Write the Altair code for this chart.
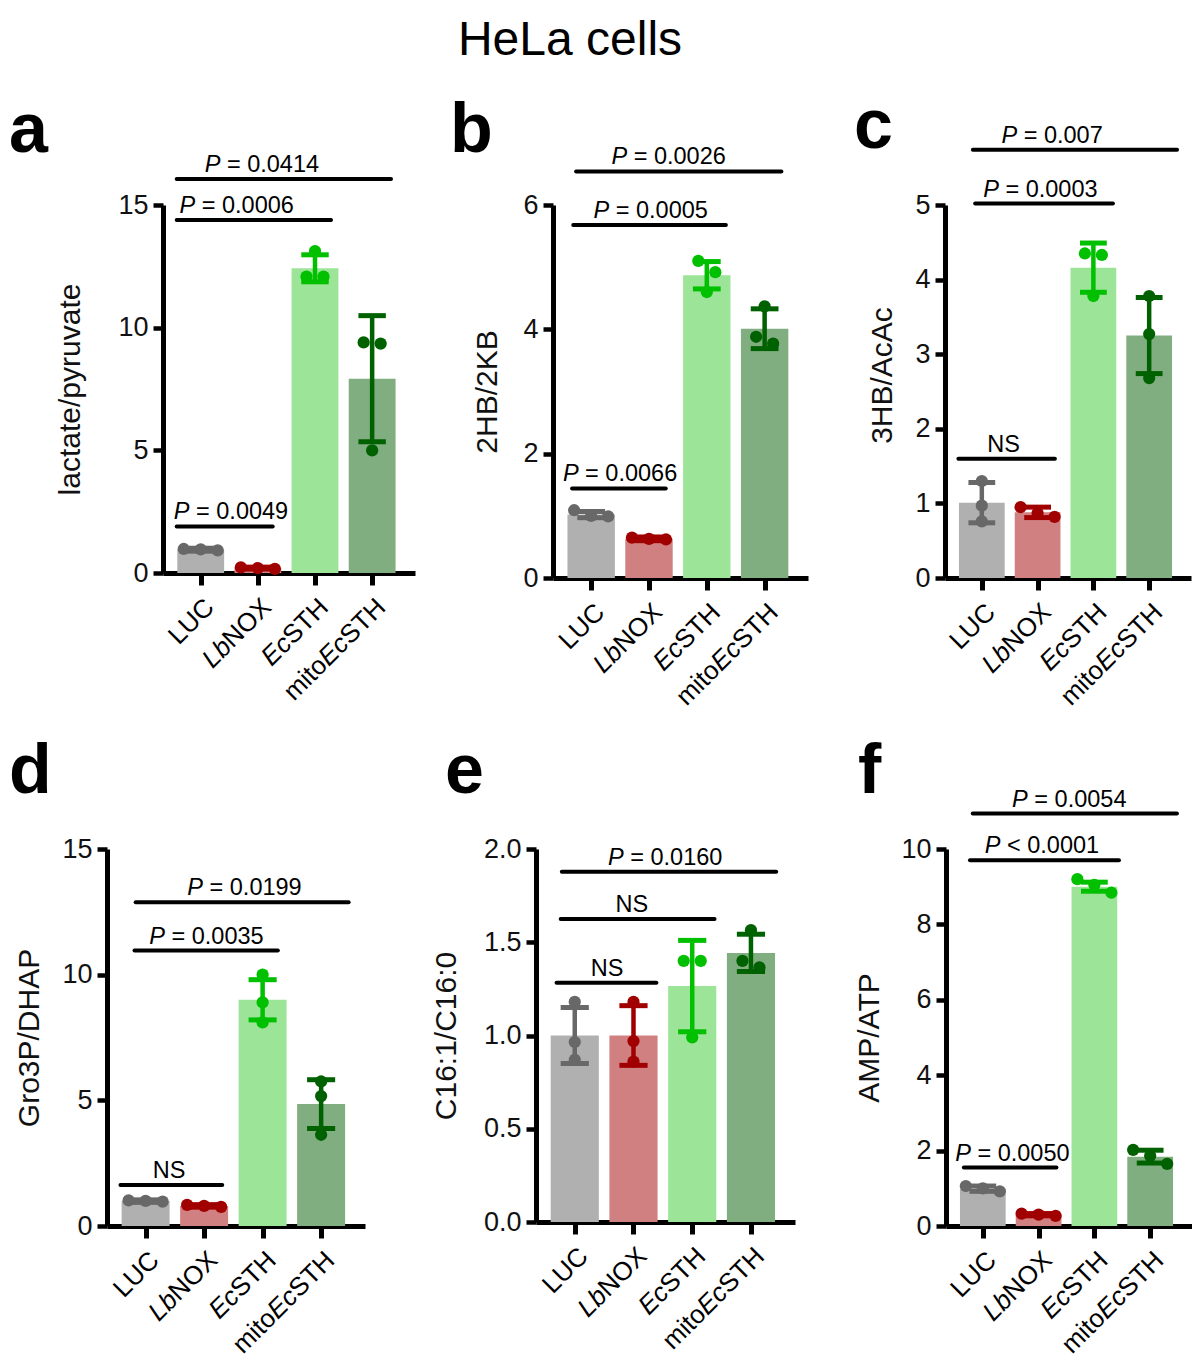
import altair as alt
import pandas as pd

FONT = "Liberation Sans"

# ---------------- data ----------------
figure_title = "HeLa cells"
groups = ["LUC", "LbNOX", "EcSTH", "mitoEcSTH"]
# tick-label pieces: (text, italic)
group_label_parts = [
    [("LUC", False)],
    [("Lb", True), ("NOX", False)],
    [("Ec", True), ("STH", False)],
    [("mito", False), ("Ec", True), ("STH", False)],
]
bar_colors = ["#b0b0b0", "#d08080", "#9ce598", "#80ae80"]
dot_colors = ["#686868", "#a10000", "#00c000", "#006100"]

panel_letters = ["a", "b", "c", "d", "e", "f"]
y_titles = ["lactate/pyruvate", "2HB/2KB", "3HB/AcAc", "Gro3P/DHAP", "C16:1/C16:0", "AMP/ATP"]
y_maxes = [15, 6, 5, 15, 2.0, 10]
y_ticks = [[0, 5, 10, 15], [0, 2, 4, 6], [0, 1, 2, 3, 4, 5], [0, 5, 10, 15],
           [0, 0.5, 1.0, 1.5, 2.0], [0, 2, 4, 6, 8, 10]]
y_formats = ["d", "d", "d", "d", ".1f", "d"]

# brackets: (label, from, to, level, label centre) in group units / y units

# panel a: lactate/pyruvate
a_mean = [0.95, 0.20, 12.42, 7.92]
a_sd = [0.06, 0.04, 0.55, 2.57]
a_dots = [[0.92, 0.96, 0.98], [0.17, 0.20, 0.23], [12.08, 12.08, 13.12], [9.40, 9.35, 5.00]]
a_brackets = [("P = 0.0049", -0.42, 1.26, 1.90, 0.53), ("P = 0.0006", -0.42, 2.28, 14.39, 0.63),
              ("P = 0.0414", -0.42, 3.33, 16.06, 1.07)]

# panel b: 2HB/2KB
b_mean = [1.02, 0.63, 4.87, 4.01]
b_sd = [0.05, 0.03, 0.22, 0.32]
b_dots = [[1.00, 0.99, 1.09], [0.62, 0.63, 0.65], [5.10, 4.92, 4.60], [4.37, 3.88, 3.77]]
b_brackets = [("P = 0.0066", -0.33, 1.29, 1.44, 0.50), ("P = 0.0005", -0.31, 2.33, 5.68, 1.03),
              ("P = 0.0026", -0.26, 3.29, 6.54, 1.34)]

# panel c: 3HB/AcAc
c_mean = [1.01, 0.88, 4.16, 3.25]
c_sd = [0.27, 0.07, 0.33, 0.51]
c_dots = [[1.30, 0.97, 0.76], [0.95, 0.82, 0.87], [4.35, 4.33, 3.78], [3.78, 3.27, 2.68]]
c_brackets = [("NS", -0.42, 1.31, 1.60, 0.39), ("P = 0.0003", -0.12, 2.35, 5.02, 1.05),
              ("P = 0.007", -0.16, 3.50, 5.74, 1.26)]

# panel d: Gro3P/DHAP
d_mean = [0.99, 0.80, 9.00, 4.85]
d_sd = [0.05, 0.05, 0.80, 0.97]
d_dots = [[0.97, 1.00, 1.02], [0.76, 0.80, 0.84], [10.00, 8.90, 8.10], [5.75, 5.17, 3.63]]
d_brackets = [("NS", -0.43, 1.31, 1.63, 0.40), ("P = 0.0035", -0.19, 2.26, 10.96, 1.04),
              ("P = 0.0199", -0.17, 3.47, 12.88, 1.69)]

# panel e: C16:1/C16:0
e_mean = [1.00, 1.00, 1.265, 1.443]
e_sd = [0.15, 0.16, 0.245, 0.10]
e_dots = [[1.18, 0.965, 0.87], [1.18, 0.97, 0.86], [1.40, 1.40, 0.99], [1.565, 1.40, 1.365]]
e_brackets = [("NS", -0.31, 1.39, 1.283, 0.55), ("NS", -0.24, 2.38, 1.625, 0.97),
              ("P = 0.0160", -0.22, 3.43, 1.878, 1.54)]

# panel f: AMP/ATP
f_mean = [0.99, 0.30, 9.00, 1.84]
f_sd = [0.07, 0.03, 0.12, 0.17]
f_dots = [[0.92, 1.00, 1.06], [0.27, 0.30, 0.33], [9.20, 9.05, 8.84], [2.02, 1.86, 1.65]]
f_brackets = [("P = 0.0050", -0.34, 1.32, 1.55, 0.53), ("P < 0.0001", -0.23, 2.44, 9.70, 1.06),
              ("P = 0.0054", -0.18, 3.48, 10.94, 1.55)]

all_means = [a_mean, b_mean, c_mean, d_mean, e_mean, f_mean]
all_sds = [a_sd, b_sd, c_sd, d_sd, e_sd, f_sd]
all_dots = [a_dots, b_dots, c_dots, d_dots, e_dots, f_dots]
all_brackets = [a_brackets, b_brackets, c_brackets, d_brackets, e_brackets, f_brackets]

# ---------------- layout (pixels) ----------------
# W,H plot size; L,R,T,B room around the plot; letter pos; y-title pos
layouts = [
    dict(W=252, H=368, L=154, R=20, T=197, B=161, lx=-154, ly=-53, tx=-93, ty=None),
    dict(W=255, H=373, L=118, R=20, T=197, B=156, lx=-103, ly=-53, tx=-66, ty=None),
    dict(W=246, H=373, L=117, R=0, T=197, B=156, lx=-91, ly=-57, tx=-63, ty=170),
    dict(W=258, H=377, L=98, R=20, T=115, B=128, lx=-98, ly=-56, tx=-78, ty=None),
    dict(W=259, H=373, L=151, R=20, T=115, B=132, lx=-91, ly=-56, tx=-90, ty=None),
    dict(W=246, H=377, L=131, R=0, T=115, B=128, lx=-88, ly=-56, tx=-77, ty=None),
]
TITLE_PANEL = 1
TITLE_POS = (17, -188)

X_DOMAIN = [-0.66, 3.75]
SPAN = X_DOMAIN[1] - X_DOMAIN[0]
P_FS = 23.5
XL_FS = 26

CW = {"P": 667, " ": 278, "=": 584, "<": 584, ".": 278, "N": 722, "S": 667, "L": 556,
      "U": 722, "C": 722, "b": 556, "O": 778, "X": 667, "E": 667, "c": 500, "T": 611,
      "H": 722, "m": 833, "i": 222, "t": 278, "o": 556}
for _d in "0123456789":
    CW[_d] = 556


def tw(s, fs):
    return sum(CW.get(ch, 556) for ch in s) * fs / 1000.0


def swarm(vals, ppy, ppx, thr=12.0):
    order = sorted(range(len(vals)), key=lambda k: -vals[k])
    clusters = [[order[0]]]
    for k in order[1:]:
        if abs(vals[clusters[-1][-1]] - vals[k]) * ppy < thr:
            clusters[-1].append(k)
        else:
            clusters.append([k])
    off = [0.0] * len(vals)
    step = 17.0 / ppx
    for cl in clusters:
        n = len(cl)
        for j, k in enumerate(cl):
            off[k] = (j - (n - 1) / 2.0) * step
    return off


def make_panel(p):
    lay = layouts[p]
    W, H = lay["W"], lay["H"]
    ymax = y_maxes[p]
    ppx = W / SPAN
    ppy = H / ymax
    means, sds = all_means[p], all_sds[p]

    xs = alt.Scale(domain=X_DOMAIN, nice=False, zero=False)
    ys = alt.Scale(domain=[0, ymax], nice=False, zero=False)
    xaxis = alt.Axis(values=[0, 1, 2, 3], labels=False, title=None, grid=False,
                     tickSize=12, tickWidth=5, tickColor="black",
                     domainColor="black", domainWidth=5)
    yaxis = alt.Axis(values=y_ticks[p], format=y_formats[p], title=y_titles[p], grid=False,
                     tickSize=10, tickWidth=4.5, tickColor="black",
                     domainColor="black", domainWidth=5,
                     labelFont=FONT, labelFontSize=27, labelColor="#111111", labelPadding=5,
                     titleFont=FONT, titleFontSize=30, titleFontWeight="normal",
                     titleColor="#111111", titleAngle=270, titleBaseline="middle",
                     titleAlign="center", titleX=lay["tx"],
                     titleY=lay["ty"] if lay["ty"] is not None else H / 2.0)

    def X(f):
        return alt.X(f, scale=xs, axis=xaxis)

    def Y(f):
        return alt.Y(f, scale=ys, axis=yaxis)

    bars = pd.DataFrame({
        "i": list(range(4)),
        "xl": [i - 0.41 for i in range(4)],
        "xr": [i + 0.41 for i in range(4)],
        "cl": [i - 0.24 for i in range(4)],
        "cr": [i + 0.24 for i in range(4)],
        "m": means,
        "z": [0.0] * 4,
        "lo": [m - s for m, s in zip(means, sds)],
        "hi": [m + s for m, s in zip(means, sds)],
        "bc": bar_colors,
        "dc": dot_colors,
        "g": groups,
    })

    bar_layer = alt.Chart(bars).mark_bar().encode(
        x=X("xl:Q"), x2="xr:Q", y=Y("m:Q"), y2="z:Q",
        color=alt.Color("bc:N", scale=None))
    err_layer = alt.Chart(bars).mark_rule(strokeWidth=4.5).encode(
        x=X("i:Q"), y=Y("lo:Q"), y2="hi:Q", color=alt.Color("dc:N", scale=None))
    cap_hi = alt.Chart(bars).mark_rule(strokeWidth=5).encode(
        x=X("cl:Q"), x2="cr:Q", y=Y("hi:Q"), color=alt.Color("dc:N", scale=None))
    cap_lo = alt.Chart(bars).mark_rule(strokeWidth=5).encode(
        x=X("cl:Q"), x2="cr:Q", y=Y("lo:Q"), color=alt.Color("dc:N", scale=None))

    drows = []
    for gi, vals in enumerate(all_dots[p]):
        offs = swarm(vals, ppy, ppx)
        for v, o in zip(vals, offs):
            drows.append({"x": gi + o, "v": v, "dc": dot_colors[gi]})
    dots_layer = alt.Chart(pd.DataFrame(drows)).mark_circle(size=150, opacity=1).encode(
        x=X("x:Q"), y=Y("v:Q"), color=alt.Color("dc:N", scale=None))

    brows, it_rows, rg_rows = [], [], []
    for lab, x1, x2, yv, lc in all_brackets[p]:
        brows.append({"x1": x1, "x2": x2, "y": yv})
        start = lc - tw(lab, P_FS) / 2.0 / ppx
        if lab.startswith("P"):
            it_rows.append({"x": start, "y": yv, "t": "P"})
            rg_rows.append({"x": start + tw("P ", P_FS) / ppx, "y": yv, "t": lab[2:]})
        else:
            rg_rows.append({"x": start, "y": yv, "t": lab})
    br_layer = alt.Chart(pd.DataFrame(brows)).mark_rule(
        strokeWidth=4, color="black", strokeCap="round").encode(
        x=X("x1:Q"), x2="x2:Q", y=Y("y:Q"))
    layers = [bar_layer, err_layer, cap_hi, cap_lo, dots_layer, br_layer]
    if it_rows:
        layers.append(alt.Chart(pd.DataFrame(it_rows)).mark_text(
            font=FONT, fontSize=P_FS, fontStyle="italic", align="left",
            baseline="alphabetic", dy=-7, color="black").encode(
            x=X("x:Q"), y=Y("y:Q"), text="t:N"))
    layers.append(alt.Chart(pd.DataFrame(rg_rows)).mark_text(
        font=FONT, fontSize=P_FS, align="left", baseline="alphabetic", dy=-7,
        color="black").encode(x=X("x:Q"), y=Y("y:Q"), text="t:N"))

    # rotated category labels with italic pieces
    pieces = {}
    for gi, parts in enumerate(group_label_parts):
        acc = 0.0
        for txt, ital in reversed(parts):
            key = (round(-acc, 3), ital)
            pieces.setdefault(key, []).append({"x": gi, "t": txt})
            acc += tw(txt, XL_FS)
    for (dxv, ital), rows in pieces.items():
        layers.append(alt.Chart(pd.DataFrame(rows)).mark_text(
            font=FONT, fontSize=XL_FS, fontStyle="italic" if ital else "normal",
            angle=315, align="right", baseline="top", dx=dxv, color="black").encode(
            x=X("x:Q"), y=alt.value(H + 21), text="t:N"))

    layers.append(alt.Chart(pd.DataFrame({"t": [panel_letters[p]]})).mark_text(
        font=FONT, fontSize=70, fontWeight="bold", align="left", baseline="alphabetic",
        color="black").encode(x=alt.value(lay["lx"]), y=alt.value(lay["ly"]), text="t:N"))

    if p == TITLE_PANEL:
        layers.append(alt.Chart(pd.DataFrame({"t": [figure_title]})).mark_text(
            font=FONT, fontSize=48, align="center", baseline="top", color="black").encode(
            x=alt.value(TITLE_POS[0]), y=alt.value(TITLE_POS[1]), text="t:N"))

    # invisible frame that fixes the panel's outer bounds
    layers.append(alt.Chart(pd.DataFrame({"k": [0]})).mark_rule(
        opacity=0, strokeWidth=1, color="white").encode(
        x=alt.value(-lay["L"]), x2=alt.value(W + lay["R"]),
        y=alt.value(-lay["T"]), y2=alt.value(H + lay["B"])))

    return alt.layer(*layers).properties(width=W, height=H)


def spacer():
    return alt.Chart(pd.DataFrame({"k": [0]})).mark_rule(
        opacity=0, strokeWidth=1, color="white").encode(
        x=alt.value(0), x2=alt.value(1), y=alt.value(0), y2=alt.value(1)
    ).properties(width=1, height=1)


panels = [make_panel(i) for i in range(6)]
row1 = alt.hconcat(spacer(), panels[0], panels[1], panels[2], spacing=0)
row2 = alt.hconcat(spacer(), panels[3], panels[4], panels[5], spacing=0)

chart = alt.vconcat(row1, row2, spacing=0).properties(
    padding=0,
).configure_view(stroke=None)

chart.save("out.html", embed_options={"renderer": "svg", "actions": False})
